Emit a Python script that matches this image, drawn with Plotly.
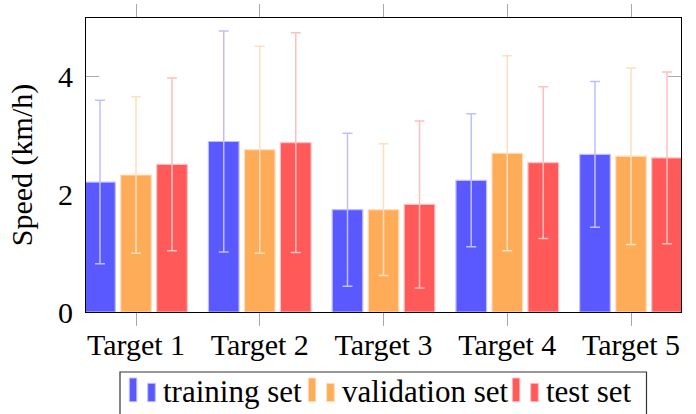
import plotly.graph_objects as go

# Mean walking speed per target with one standard deviation, per data split
categories = ["Target 1", "Target 2", "Target 3", "Target 4", "Target 5"]

train_mean = [2.21, 2.90, 1.74, 2.24, 2.68]
train_std = [1.39, 1.88, 1.30, 1.13, 1.24]

val_mean = [2.33, 2.76, 1.74, 2.70, 2.65]
val_std = [1.33, 1.76, 1.12, 1.66, 1.50]

test_mean = [2.51, 2.88, 1.83, 2.54, 2.62]
test_std = [1.47, 1.87, 1.42, 1.29, 1.46]

series_names = ["training set", "validation set", "test set"]
fill_colors = ["#5959ff", "#ffac59", "#ff5959"]
light_colors = ["#bfbfff", "#ffdfbf", "#ffbfbf"]

y_ticks = [0, 2, 4]

FONT = "Liberation Serif"
W, H = 696, 414
ML, MR, MT, MB = 86, 15, 18, 102
PW, PH = W - ML - MR, H - MT - MB


def px(x):
    """Pixel column -> paper x."""
    return (x - ML) / PW


def py(y):
    """Pixel row -> paper y."""
    return (H - MB - y) / PH


fig = go.Figure()
for name, mean, std, fill, light in zip(
    series_names,
    [train_mean, val_mean, test_mean],
    [train_std, val_std, test_std],
    fill_colors,
    light_colors,
):
    fig.add_trace(
        go.Bar(
            name=name,
            x=categories,
            y=mean,
            marker=dict(color=fill, line=dict(color=light, width=1.2)),
            error_y=dict(type="data", array=std, symmetric=True,
                         color=light, thickness=1.5, width=5),
            showlegend=False,
        )
    )

axis_common = dict(
    showline=True,
    linecolor="black",
    linewidth=1,
    mirror="ticks",
    ticklen=13,
    tickwidth=1.2,
    tickcolor="#a8a8a8",
    tickfont=dict(family=FONT, size=30, color="black"),
    showgrid=False,
    zeroline=False,
    automargin=False,
    layer="below traces",
)

fig.update_layout(
    width=W,
    height=H,
    margin=dict(l=ML, r=MR, t=MT, b=MB, pad=0),
    paper_bgcolor="white",
    plot_bgcolor="white",
    barmode="group",
    bargap=0.127,
    bargroupgap=0.15,
    font=dict(family=FONT, size=30, color="black"),
    xaxis=dict(
        type="category",
        range=[-0.404, 4.404],
        ticks="outside",
        ticklabelstandoff=-7,
        **axis_common,
    ),
    yaxis=dict(
        range=[0, 5],
        tickvals=y_ticks,
        ticktext=[str(v) for v in y_ticks],
        ticks="inside",
        ticklabelstandoff=6,
        title=dict(text="Speed (km/h)", font=dict(family=FONT, size=30), standoff=16),
        **axis_common,
    ),
)

# Legend box with two-bar swatches per entry
shapes = [
    dict(type="rect", xref="paper", yref="paper",
         x0=px(120), x1=px(646.5), y0=py(430), y1=py(372),
         line=dict(color="#333333", width=1.2), fillcolor="rgba(0,0,0,0)")
]
annotations = []
entry_x = [129.3, 308.3, 512.3]
for name, fill, light, x0 in zip(series_names, fill_colors, light_colors, entry_x):
    shapes.append(dict(type="rect", xref="paper", yref="paper",
                       x0=px(x0), x1=px(x0 + 7.5), y0=py(401.7), y1=py(378),
                       fillcolor=fill, line=dict(color=light, width=1)))
    shapes.append(dict(type="rect", xref="paper", yref="paper",
                       x0=px(x0 + 18.4), x1=px(x0 + 26), y0=py(401.7), y1=py(383.3),
                       fillcolor=fill, line=dict(color=light, width=1)))
    annotations.append(dict(text=name, xref="paper", yref="paper",
                            x=px(x0 + 32), y=py(391.5), xanchor="left", yanchor="middle",
                            showarrow=False,
                            font=dict(family=FONT, size=31, color="black")))

fig.update_layout(shapes=shapes, annotations=annotations)

fig.write_html("out.html", config={"displayModeBar": False})
